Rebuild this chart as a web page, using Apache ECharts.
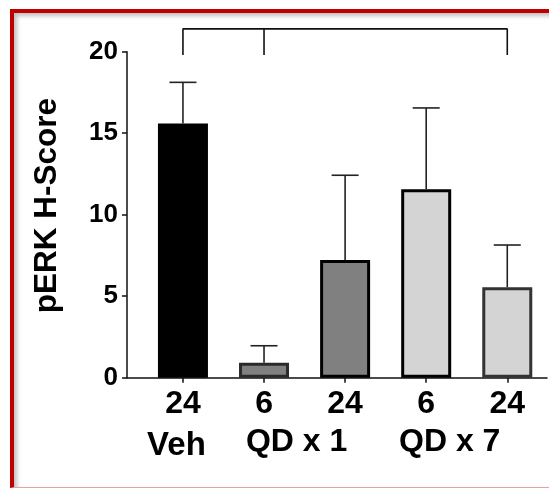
<!DOCTYPE html>
<html>
<head>
<meta charset="utf-8">
<script src="https://cdn.jsdelivr.net/npm/echarts@6/dist/echarts.min.js"></script>
<style>
  html, body { margin: 0; padding: 0; width: 549px; height: 488px; background: #fff; overflow: hidden; }
  #frame { position: absolute; left: 10px; top: 9px; width: 560px; height: 474px;
           border-left: 4px solid #c00000; border-top: 4px solid #c00000; border-bottom: 1px solid #e6a3a3;
           box-shadow: inset 3px 3px 4px rgba(0,0,0,0.25); }
  #chart { position: absolute; left: 0; top: 0; width: 549px; height: 488px; }
</style>
</head>
<body>
<div id="frame"></div>
<div id="chart"></div>
<script>
// ---- data ----
const timeLabels = ['24', '6', '24', '6', '24'];
const groupNames = ['Veh', 'QD x 1', 'QD x 7'];
const groupMembers = [[0], [1, 2], [3, 4]];
const means = [15.6, 0.92, 7.22, 11.56, 5.55];
const errors = [2.52, 1.04, 5.2, 4.99, 2.59];
const yTicks = [0, 5, 10, 15, 20];
const bracketIdx = [0, 1, 4];      // bracket connects these categories
const bracketTop = 21.4;
const bracketFoot = 19.8;

// ---- styles ----
const fills = ['#000000', '#808080', '#808080', '#d4d4d4', '#d4d4d4'];
const borders = ['#000000', '#2a2a2a', '#000000', '#000000', '#333333'];
const FONT = '"Liberation Sans", Arial, sans-serif';

const pos = means.map((_, i) => i + 1);
const chart = echarts.init(document.getElementById('chart'), null, { renderer: 'canvas' });

const barData = means.map((v, i) => ({
  value: [pos[i], v],
  itemStyle: { color: fills[i], borderColor: borders[i], borderWidth: 3 }
}));
const errData = means.map((v, i) => [pos[i], v, v + errors[i]]);

const bl = pos[bracketIdx[0]], bm = pos[bracketIdx[1]], br = pos[bracketIdx[2]];
const bracketMain = [[bl, bracketFoot], [bl, bracketTop], [br, bracketTop], [br, bracketFoot]];
const bracketMid = [[bm, bracketTop], [bm, bracketFoot]];

const groupCenters = groupMembers.map(m => m.reduce((s, k) => s + pos[k], 0) / m.length);

const option = {
  animation: false,
  backgroundColor: 'transparent',
  grid: { left: 127, right: 2, top: 51.7, bottom: 110.3, containLabel: false },
  xAxis: [{
    type: 'value', min: 0.31, max: 5.49,
    splitLine: { show: false },
    axisLine: { show: true, onZero: false, lineStyle: { color: '#111', width: 1.5 } },
    axisTick: { show: true, customValues: pos, length: 5, lineStyle: { color: '#111', width: 1.5 } },
    axisLabel: {
      customValues: pos, margin: 10,
      formatter: v => timeLabels[Math.round(v) - 1],
      color: '#000', fontFamily: FONT, fontWeight: 'bold', fontSize: 32
    }
  }, {
    type: 'value', min: 0.31, max: 5.49, position: 'bottom',
    splitLine: { show: false }, axisLine: { show: false }, axisTick: { show: false },
    axisLabel: {
      customValues: groupCenters, margin: 48,
      formatter: v => {
        const i = groupCenters.findIndex(c => Math.abs(c - v) < 1e-6);
        return '{g' + i + '|' + groupNames[i] + '}';
      },
      color: '#000', fontFamily: FONT, fontWeight: 'bold', fontSize: 32,
      rich: {
        g0: { fontFamily: FONT, fontWeight: 'bold', fontSize: 33, color: '#000', padding: [4, 13, 0, 0] },
        g1: { fontFamily: FONT, fontWeight: 'bold', fontSize: 32, color: '#000', padding: [0, 16, 0, 0] },
        g2: { fontFamily: FONT, fontWeight: 'bold', fontSize: 32, color: '#000', padding: [0, 34, 0, 0] }
      }
    }
  }],
  yAxis: {
    type: 'value', min: 0, max: 20, interval: 5,
    name: 'pERK H-Score', nameLocation: 'middle', nameGap: 64,
    nameTextStyle: { fontFamily: FONT, fontWeight: 'bold', fontSize: 31.5, color: '#000', padding: [0, 0, 0, 18] },
    splitLine: { show: false },
    axisLine: { show: true, lineStyle: { color: '#111', width: 1.5 } },
    axisTick: { show: true, length: 5, lineStyle: { color: '#111', width: 1.5 } },
    axisLabel: {
      margin: 9, color: '#000', fontFamily: FONT, fontWeight: 'bold', fontSize: 26,
      formatter: v => yTicks.includes(v) ? String(v) : ''
    }
  },
  series: [{
    type: 'bar', xAxisIndex: 0, barWidth: 50, data: barData, z: 2
  }, {
    type: 'custom', xAxisIndex: 0, z: 3, data: errData,
    renderItem: (params, api) => {
      const x = api.value(0);
      const p0 = api.coord([x, api.value(1)]);
      const p1 = api.coord([x, api.value(2)]);
      const half = 13.5;
      const st = { stroke: '#222', lineWidth: 1.6 };
      return { type: 'group', children: [
        { type: 'line', shape: { x1: p0[0], y1: p0[1], x2: p1[0], y2: p1[1] }, style: st },
        { type: 'line', shape: { x1: p1[0] - half, y1: p1[1], x2: p1[0] + half, y2: p1[1] }, style: st }
      ]};
    }
  }, {
    type: 'line', xAxisIndex: 0, data: bracketMain, symbol: 'none', clip: false,
    lineStyle: { color: '#111', width: 1.6 }, z: 4
  }, {
    type: 'line', xAxisIndex: 0, data: bracketMid, symbol: 'none', clip: false,
    lineStyle: { color: '#111', width: 1.6 }, z: 4
  }]
};
chart.setOption(option);
</script>
</body>
</html>
